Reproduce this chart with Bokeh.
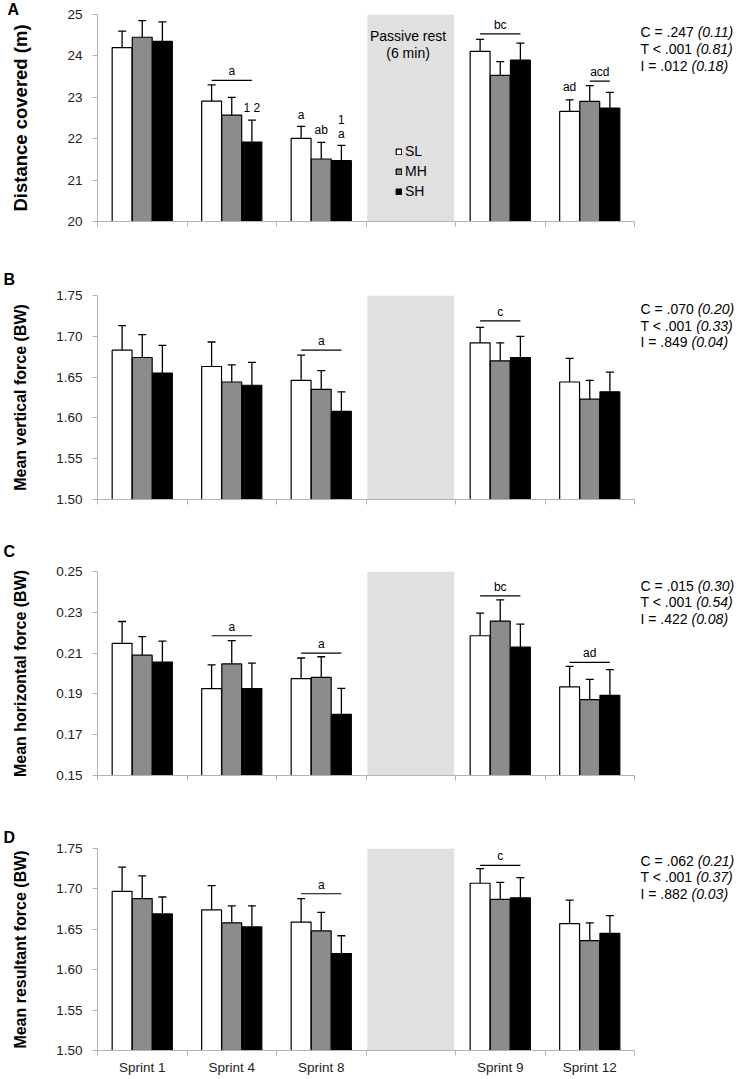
from bokeh.plotting import figure
from bokeh.models import (Range1d, LinearAxis, FixedTicker, Title,
                          ColumnDataSource, Legend, LegendItem, NumeralTickFormatter)
from bokeh.layouts import column
from bokeh.core.properties import value
from bokeh.embed import file_html
from bokeh.resources import INLINE

FONT = "Liberation Sans"

# ---------------- data ----------------
categories = ["Sprint 1", "Sprint 4", "Sprint 8", "Rest", "Sprint 9", "Sprint 12"]
tick_labels = ["Sprint 1", "Sprint 4", "Sprint 8", "", "Sprint 9", "Sprint 12"]
sprints = ["Sprint 1", "Sprint 4", "Sprint 8", "Sprint 9", "Sprint 12"]
groups = ["SL", "MH", "SH"]
group_colors = ["#ffffff", "#8c8c8c", "#000000"]

# A: distance covered (m)
dist_SL = [24.20, 22.91, 22.01, 24.11, 22.66]
dist_MH = [24.45, 22.57, 21.51, 23.53, 22.90]
dist_SH = [24.35, 21.92, 21.47, 23.90, 22.74]
dist_SL_sd = [0.40, 0.39, 0.29, 0.29, 0.28]
dist_MH_sd = [0.40, 0.43, 0.40, 0.33, 0.38]
dist_SH_sd = [0.47, 0.53, 0.37, 0.41, 0.38]

# B: mean vertical force (BW)
vert_SL = [1.683, 1.663, 1.646, 1.692, 1.644]
vert_MH = [1.674, 1.644, 1.635, 1.670, 1.623]
vert_SH = [1.655, 1.640, 1.608, 1.674, 1.632]
vert_SL_sd = [0.030, 0.030, 0.031, 0.019, 0.029]
vert_MH_sd = [0.028, 0.021, 0.023, 0.022, 0.023]
vert_SH_sd = [0.034, 0.028, 0.024, 0.026, 0.024]

# C: mean horizontal force (BW)
hor_SL = [0.2148, 0.1926, 0.1975, 0.2185, 0.1934]
hor_MH = [0.2090, 0.2047, 0.1981, 0.2257, 0.1872]
hor_SH = [0.2056, 0.1926, 0.1800, 0.2130, 0.1893]
hor_SL_sd = [0.0107, 0.0116, 0.0101, 0.0111, 0.0101]
hor_MH_sd = [0.0091, 0.0114, 0.0101, 0.0104, 0.0099]
hor_SH_sd = [0.0103, 0.0125, 0.0127, 0.0112, 0.0126]

# D: mean resultant force (BW)
res_SL = [1.697, 1.674, 1.659, 1.707, 1.657]
res_MH = [1.688, 1.658, 1.648, 1.687, 1.636]
res_SH = [1.669, 1.653, 1.620, 1.689, 1.645]
res_SL_sd = [0.030, 0.030, 0.029, 0.018, 0.029]
res_MH_sd = [0.028, 0.021, 0.023, 0.021, 0.022]
res_SH_sd = [0.021, 0.026, 0.022, 0.025, 0.022]

# y axes
dist_ticks = [20, 21, 22, 23, 24, 25]
vert_ticks = [1.50, 1.55, 1.60, 1.65, 1.70, 1.75]
hor_ticks = [0.15, 0.17, 0.19, 0.21, 0.23, 0.25]
res_ticks = [1.50, 1.55, 1.60, 1.65, 1.70, 1.75]

# statistics (p value, effect size)
dist_stats = [("C = .247 ", "(0.11)"), ("T < .001 ", "(0.81)"), ("I = .012 ", "(0.18)")]
vert_stats = [("C = .070 ", "(0.20)"), ("T < .001 ", "(0.33)"), ("I = .849 ", "(0.04)")]
hor_stats = [("C = .015 ", "(0.30)"), ("T < .001 ", "(0.54)"), ("I = .422 ", "(0.08)")]
res_stats = [("C = .062 ", "(0.21)"), ("T < .001 ", "(0.37)"), ("I = .882 ", "(0.03)")]

# significance brackets: (category, from group, to group, level, text)
dist_brackets = [("Sprint 4", 0, 2, 23.41, "a"), ("Sprint 9", 0, 2, 24.53, "bc"),
                 ("Sprint 12", 1, 2, 23.39, "acd")]
vert_brackets = [("Sprint 8", 0, 2, 1.683, "a"), ("Sprint 9", 0, 2, 1.719, "c")]
hor_brackets = [("Sprint 4", 0, 2, 0.2185, "a"), ("Sprint 8", 0, 2, 0.2100, "a"),
                ("Sprint 9", 0, 2, 0.2381, "bc"), ("Sprint 12", 0, 2, 0.2055, "ad")]
res_brackets = [("Sprint 8", 0, 2, 1.694, "a"), ("Sprint 9", 0, 2, 1.729, "c")]

# single letters: (category, group, level, text)
dist_letters = [("Sprint 4", 2, 22.75, "1 2"), ("Sprint 8", 0, 22.58, "a"),
                ("Sprint 8", 1, 22.20, "ab"), ("Sprint 8", 2, 22.47, "1"),
                ("Sprint 8", 2, 22.12, "a"), ("Sprint 12", 0, 23.26, "ad")]

# ---------------- layout ----------------
W = 736
BL = 97
PX_PER_CAT = 89.5
X_END = len(categories) + (W - BL - PX_PER_CAT * len(categories)) / PX_PER_CAT
OFFS = [-0.225, 0.0, 0.225]
BAR_W = 0.222
STAT_SIZE = 14

AW = {" ": 278, ".": 278, "=": 584, "<": 584, "C": 722, "T": 611, "I": 278, "(": 333, ")": 333}


def text_w(s, size):
    return sum(AW.get(ch, 556) for ch in s) * size / 1000.0


def xpos(cat, off=0.0):
    return categories.index(cat) + 0.5 + off


panels = [
    dict(letter="A", ylabel="Distance covered (m)", means=[dist_SL, dist_MH, dist_SH],
         sds=[dist_SL_sd, dist_MH_sd, dist_SH_sd], ticks=dist_ticks, fmt="0",
         stats=dist_stats, brackets=dist_brackets, letters=dist_letters,
         height=262, top=14, fh=207, lsize="18.5px", lstand=33, soff=17.7, rest=True, xl=False,
         lvalign="bottom", lstandoff=-6, loffset=-90),
    dict(letter="B", ylabel="Mean vertical force (BW)", means=[vert_SL, vert_MH, vert_SH],
         sds=[vert_SL_sd, vert_MH_sd, vert_SH_sd], ticks=vert_ticks, fmt="0.00",
         stats=vert_stats, brackets=vert_brackets, letters=[],
         height=267, top=33, fh=204, lsize="16px", lstand=24, soff=13.3, rest=False, xl=False,
         lvalign="top", lstandoff=11, loffset=-94),
    dict(letter="C", ylabel="Mean horizontal force (BW)", means=[hor_SL, hor_MH, hor_SH],
         sds=[hor_SL_sd, hor_MH_sd, hor_SH_sd], ticks=hor_ticks, fmt="0.00",
         stats=hor_stats, brackets=hor_brackets, letters=[],
         height=296, top=42, fh=204, lsize="16px", lstand=24, soff=14, rest=False, xl=False,
         lvalign="top", lstandoff=20, loffset=-94),
    dict(letter="D", ylabel="Mean resultant force (BW)", means=[res_SL, res_MH, res_SH],
         sds=[res_SL_sd, res_MH_sd, res_SH_sd], ticks=res_ticks, fmt="0.00",
         stats=res_stats, brackets=res_brackets, letters=[],
         height=252, top=23, fh=202, lsize="16px", lstand=24, soff=12, rest=False, xl=True,
         lvalign="top", lstandoff=1, loffset=-94),
]

figs = []
for P in panels:
    ymin, ymax = P["ticks"][0], P["ticks"][-1]
    p = figure(width=W, height=P["height"], x_range=Range1d(0, X_END),
               y_range=Range1d(ymin, ymax), x_axis_location=None,
               output_backend="svg", toolbar_location=None)
    p.min_border_left = BL
    p.min_border_right = 0
    p.min_border_top = P["top"]
    p.min_border_bottom = P["height"] - P["top"] - P["fh"]
    p.outline_line_color = None
    p.grid.visible = False
    p.background_fill_color = "white"
    p.border_fill_color = "white"

    # panel letter
    p.title = Title(text=P["letter"], align="left", offset=P["loffset"],
                    vertical_align=P["lvalign"], standoff=P["lstandoff"],
                    text_font=FONT, text_font_style="bold", text_font_size="16px",
                    text_color="black")

    # x axis: labels at category centres, tick marks between categories
    xa = LinearAxis(ticker=FixedTicker(ticks=[xpos(c) for c in categories],
                                       minor_ticks=list(range(len(categories) + 1))),
                    bounds=(0, len(categories)))
    xa.major_label_overrides = {xpos(c): (tick_labels[i] if P["xl"] else "")
                                for i, c in enumerate(categories)}
    xa.axis_line_color = "#b3b3b3"
    xa.major_tick_line_color = None
    xa.major_tick_out = 5
    xa.major_tick_in = 0
    xa.minor_tick_line_color = "#b3b3b3"
    xa.minor_tick_out = 5
    xa.minor_tick_in = 0
    xa.major_label_text_font = FONT
    xa.major_label_text_font_size = "13.5px"
    xa.major_label_text_color = "#222222"
    xa.major_label_standoff = 4
    xa.axis_label_standoff = 0
    p.add_layout(xa, "below")

    ya = p.yaxis[0]
    ya.ticker = FixedTicker(ticks=P["ticks"])
    ya.formatter = NumeralTickFormatter(format=P["fmt"])
    ya.axis_line_color = "#b3b3b3"
    ya.major_tick_line_color = "#b3b3b3"
    ya.major_tick_out = 5
    ya.major_tick_in = 0
    ya.minor_tick_line_color = None
    ya.major_label_text_font = FONT
    ya.major_label_text_font_size = "13.5px"
    ya.major_label_text_color = "#222222"
    ya.major_label_standoff = 10
    ya.axis_label = P["ylabel"]
    ya.axis_label_text_font = FONT
    ya.axis_label_text_font_style = "bold"
    ya.axis_label_text_font_size = P["lsize"]
    ya.axis_label_text_color = "#000000"
    ya.axis_label_standoff = P["lstand"]

    # passive rest band
    p.vbar(x=[xpos(categories[3])], top=[ymax], bottom=[ymin], width=0.97,
           fill_color="#e0e0e0", line_color=None)

    bar_renderers = []
    for gi, g in enumerate(groups):
        m = P["means"][gi]
        sd = P["sds"][gi]
        src = ColumnDataSource(dict(x=[xpos(c, OFFS[gi]) for c in sprints], mean=m,
                                    up=[a + b for a, b in zip(m, sd)]))
        p.segment(x0="x", y0="mean", x1="x", y1="up", source=src,
                  line_color="black", line_width=1.3)
        p.scatter(x="x", y="up", source=src, marker="dash", size=8,
                  line_color="black", line_width=1.3)
        r = p.vbar(x="x", top="mean", bottom=ymin, width=BAR_W, source=src,
                   fill_color=group_colors[gi], line_color="black", line_width=1.2)
        bar_renderers.append(r)

    for (cat, g0, g1, lv, lab) in P["brackets"]:
        s = ColumnDataSource(dict(x0=[xpos(cat, OFFS[g0])], x1=[xpos(cat, OFFS[g1])],
                                  xm=[xpos(cat, (OFFS[g0] + OFFS[g1]) / 2)], y=[lv], t=[lab]))
        p.segment(x0="x0", x1="x1", y0="y", y1="y", source=s, line_color="black", line_width=1.2)
        p.text(x="xm", y="y", text="t", source=s, text_font=value(FONT), text_font_size="12px",
               text_align="center", text_baseline="bottom", y_offset=-2, text_color="black")

    for (cat, g, lv, lab) in P["letters"]:
        s = ColumnDataSource(dict(x=[xpos(cat, OFFS[g])], y=[lv], t=[lab]))
        p.text(x="x", y="y", text="t", source=s,
               text_font=value(FONT), text_font_size="12px", text_align="center",
               text_baseline="middle", text_color="black")

    if P["rest"]:
        s = ColumnDataSource(dict(x=[xpos(categories[3], -0.03)] * 2, y=[24.49, 24.06],
                                  t=["Passive rest", "(6 min)"]))
        p.text(x="x", y="y", text="t", source=s,
               text_font=value(FONT), text_font_size="14px", text_align="center",
               text_baseline="middle", text_color="black")
        leg = Legend(items=[LegendItem(label=g, renderers=[bar_renderers[i]])
                            for i, g in enumerate(groups)],
                     location=(298, 22), orientation="vertical")
        leg.background_fill_alpha = 0
        leg.border_line_color = None
        leg.glyph_width = 7
        leg.glyph_height = 7
        leg.label_height = 16
        leg.label_standoff = 3
        leg.spacing = 4
        leg.padding = 0
        leg.margin = 0
        leg.label_text_font = FONT
        leg.label_text_font_size = "14px"
        leg.label_text_color = "black"
        p.add_layout(leg)

    # statistics text, right of the last category
    for i, (norm, ital) in enumerate(P["stats"]):
        yoff = P["soff"] + i * 16.8
        p.text(x=[len(categories)], y=[ymax], text=[norm], x_offset=6, y_offset=yoff,
               text_font=value(FONT), text_font_size=f"{STAT_SIZE}px",
               text_baseline="middle", text_align="left", text_color="black")
        p.text(x=[len(categories)], y=[ymax], text=[ital], x_offset=6 + text_w(norm, STAT_SIZE),
               y_offset=yoff, text_font=value(FONT), text_font_size=f"{STAT_SIZE}px",
               text_font_style="italic", text_baseline="middle", text_align="left",
               text_color="black")
    figs.append(p)

layout = column(*figs, spacing=0)
open("out.html", "w").write(file_html(layout, INLINE))
